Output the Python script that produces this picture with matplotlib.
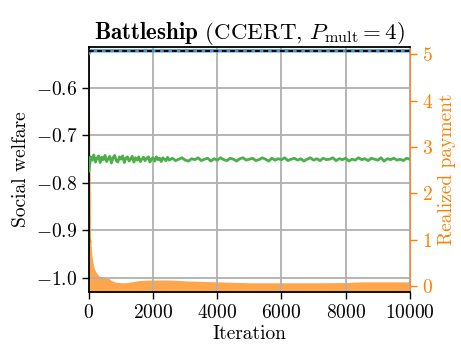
import matplotlib
matplotlib.use("Agg")
import matplotlib.pyplot as plt

plt.rcParams.update({
    "font.family": "serif",
    "font.serif": ["cmr10"],
    "mathtext.fontset": "cm",
    "axes.formatter.use_mathtext": True,
    "font.size": 14,
    "axes.unicode_minus": True,
})

# ---- data ----
blue_x = [0, 30, 60, 10000]
blue_y = [-0.527, -0.523, -0.522, -0.522]

optimum_sw = -0.522

green_x = list(range(0, 2501, 50)) + list(range(2600, 10001, 100))
green_y = [
    -0.775, -0.745, -0.752, -0.741, -0.756, -0.748, -0.743, -0.757, -0.746, -0.751,
    -0.742, -0.755, -0.749, -0.744, -0.758, -0.747, -0.742, -0.753, -0.756, -0.745,
    -0.750, -0.743, -0.757, -0.748, -0.745, -0.754, -0.749, -0.744, -0.756, -0.747,
    -0.752, -0.745, -0.755, -0.750, -0.746, -0.753, -0.748, -0.745, -0.756, -0.749,
    -0.747, -0.754, -0.745, -0.751, -0.748, -0.755, -0.747, -0.750, -0.753, -0.746,
    -0.752,
    -0.748, -0.753, -0.750, -0.747, -0.752, -0.754, -0.749, -0.751, -0.747, -0.753,
    -0.750, -0.748, -0.754, -0.749, -0.752, -0.747, -0.751, -0.753, -0.748, -0.750,
    -0.754, -0.749, -0.747, -0.752, -0.750, -0.748, -0.753, -0.751, -0.747, -0.750,
    -0.754, -0.748, -0.752, -0.749, -0.751, -0.747, -0.753, -0.750, -0.748, -0.752,
    -0.749, -0.754, -0.750, -0.747, -0.752, -0.749, -0.753, -0.748, -0.751, -0.750,
    -0.747, -0.753, -0.749, -0.751, -0.748, -0.754, -0.750, -0.752, -0.747, -0.751,
    -0.749, -0.753, -0.748, -0.750, -0.752, -0.747, -0.754, -0.749, -0.751, -0.748,
    -0.752, -0.750, -0.753, -0.748, -0.750,
]

pay_x = [0, 31, 60, 93, 125, 156, 200, 250, 311, 400, 500, 623, 700, 800, 1000,
         1200, 1400, 1600, 2000, 2500, 2800, 3000, 3500, 4000, 4500, 5000, 6000,
         7000, 8000, 8500, 9000, 10000]
pay_y = [5.3, 1.05, 0.95, 0.65, 0.5, 0.4, 0.32, 0.27, 0.22, 0.2, 0.18, 0.16, 0.12,
         0.09, 0.07, 0.075, 0.1, 0.12, 0.13, 0.13, 0.12, 0.11, 0.1, 0.09, 0.08,
         0.07, 0.07, 0.07, 0.075, 0.09, 0.09, 0.09]

x_ticks = [0, 2000, 4000, 6000, 8000, 10000]
left_ticks = [-1.0, -0.9, -0.8, -0.7, -0.6]
right_ticks = [0, 1, 2, 3, 4, 5]

ORANGE = "#ff7f00"
GREEN = "#4daf4a"
BLUE = "#4a8fd0"

fig = plt.figure(figsize=(4.61, 3.51), dpi=100)
ax = fig.add_axes([0.193, 0.168, 0.696, 0.698])
ax2 = ax.twinx()

ax.set_zorder(ax2.get_zorder() + 1)
ax.patch.set_visible(False)

# Right axis: realized payment
ax2.set_ylim(-0.13, 5.16)
ax2.fill_between(pay_x, pay_y, -0.13, color=ORANGE, alpha=0.7, linewidth=0)
ax2.plot(pay_x[:3], pay_y[:3], color=ORANGE, lw=1.0)
ax2.set_yticks(right_ticks)
ax2.set_ylabel("Realized payment", color=ORANGE)
ax2.tick_params(axis="y", colors=ORANGE, direction="out", length=5, width=1)
ax2.spines["right"].set_color(ORANGE)
ax2.spines["right"].set_linewidth(1.3)

# Left axis: social welfare
ax.plot(green_x, green_y, color=GREEN, lw=2.0, zorder=3)
ax.plot(blue_x, blue_y, color=BLUE, lw=2.4, zorder=4)
ax.axhline(optimum_sw, color="black", lw=1.3, dashes=(2.6, 2.0), zorder=5)

ax.set_xlim(0, 10000)
ax.set_ylim(-1.0295, -0.514)
ax.set_xticks(x_ticks)
ax.set_yticks(left_ticks)
ax.grid(True, color="#b0b0b0", lw=1.3)
ax.set_axisbelow(True)
ax.tick_params(direction="out", length=5, width=1)
ax.set_xlabel("Iteration", labelpad=2)
ax.set_ylabel("Social welfare")
for s in ["left", "bottom", "top"]:
    ax.spines[s].set_linewidth(1.3)
ax.spines["right"].set_visible(False)
for s in ["left", "bottom", "top"]:
    ax2.spines[s].set_visible(False)

ax.set_title(r"$\mathbf{Battleship}$ (CCERT, $P_{\mathrm{mult}}=4$)", fontsize=16.5, pad=5)

fig.savefig("out.png", dpi=100)
